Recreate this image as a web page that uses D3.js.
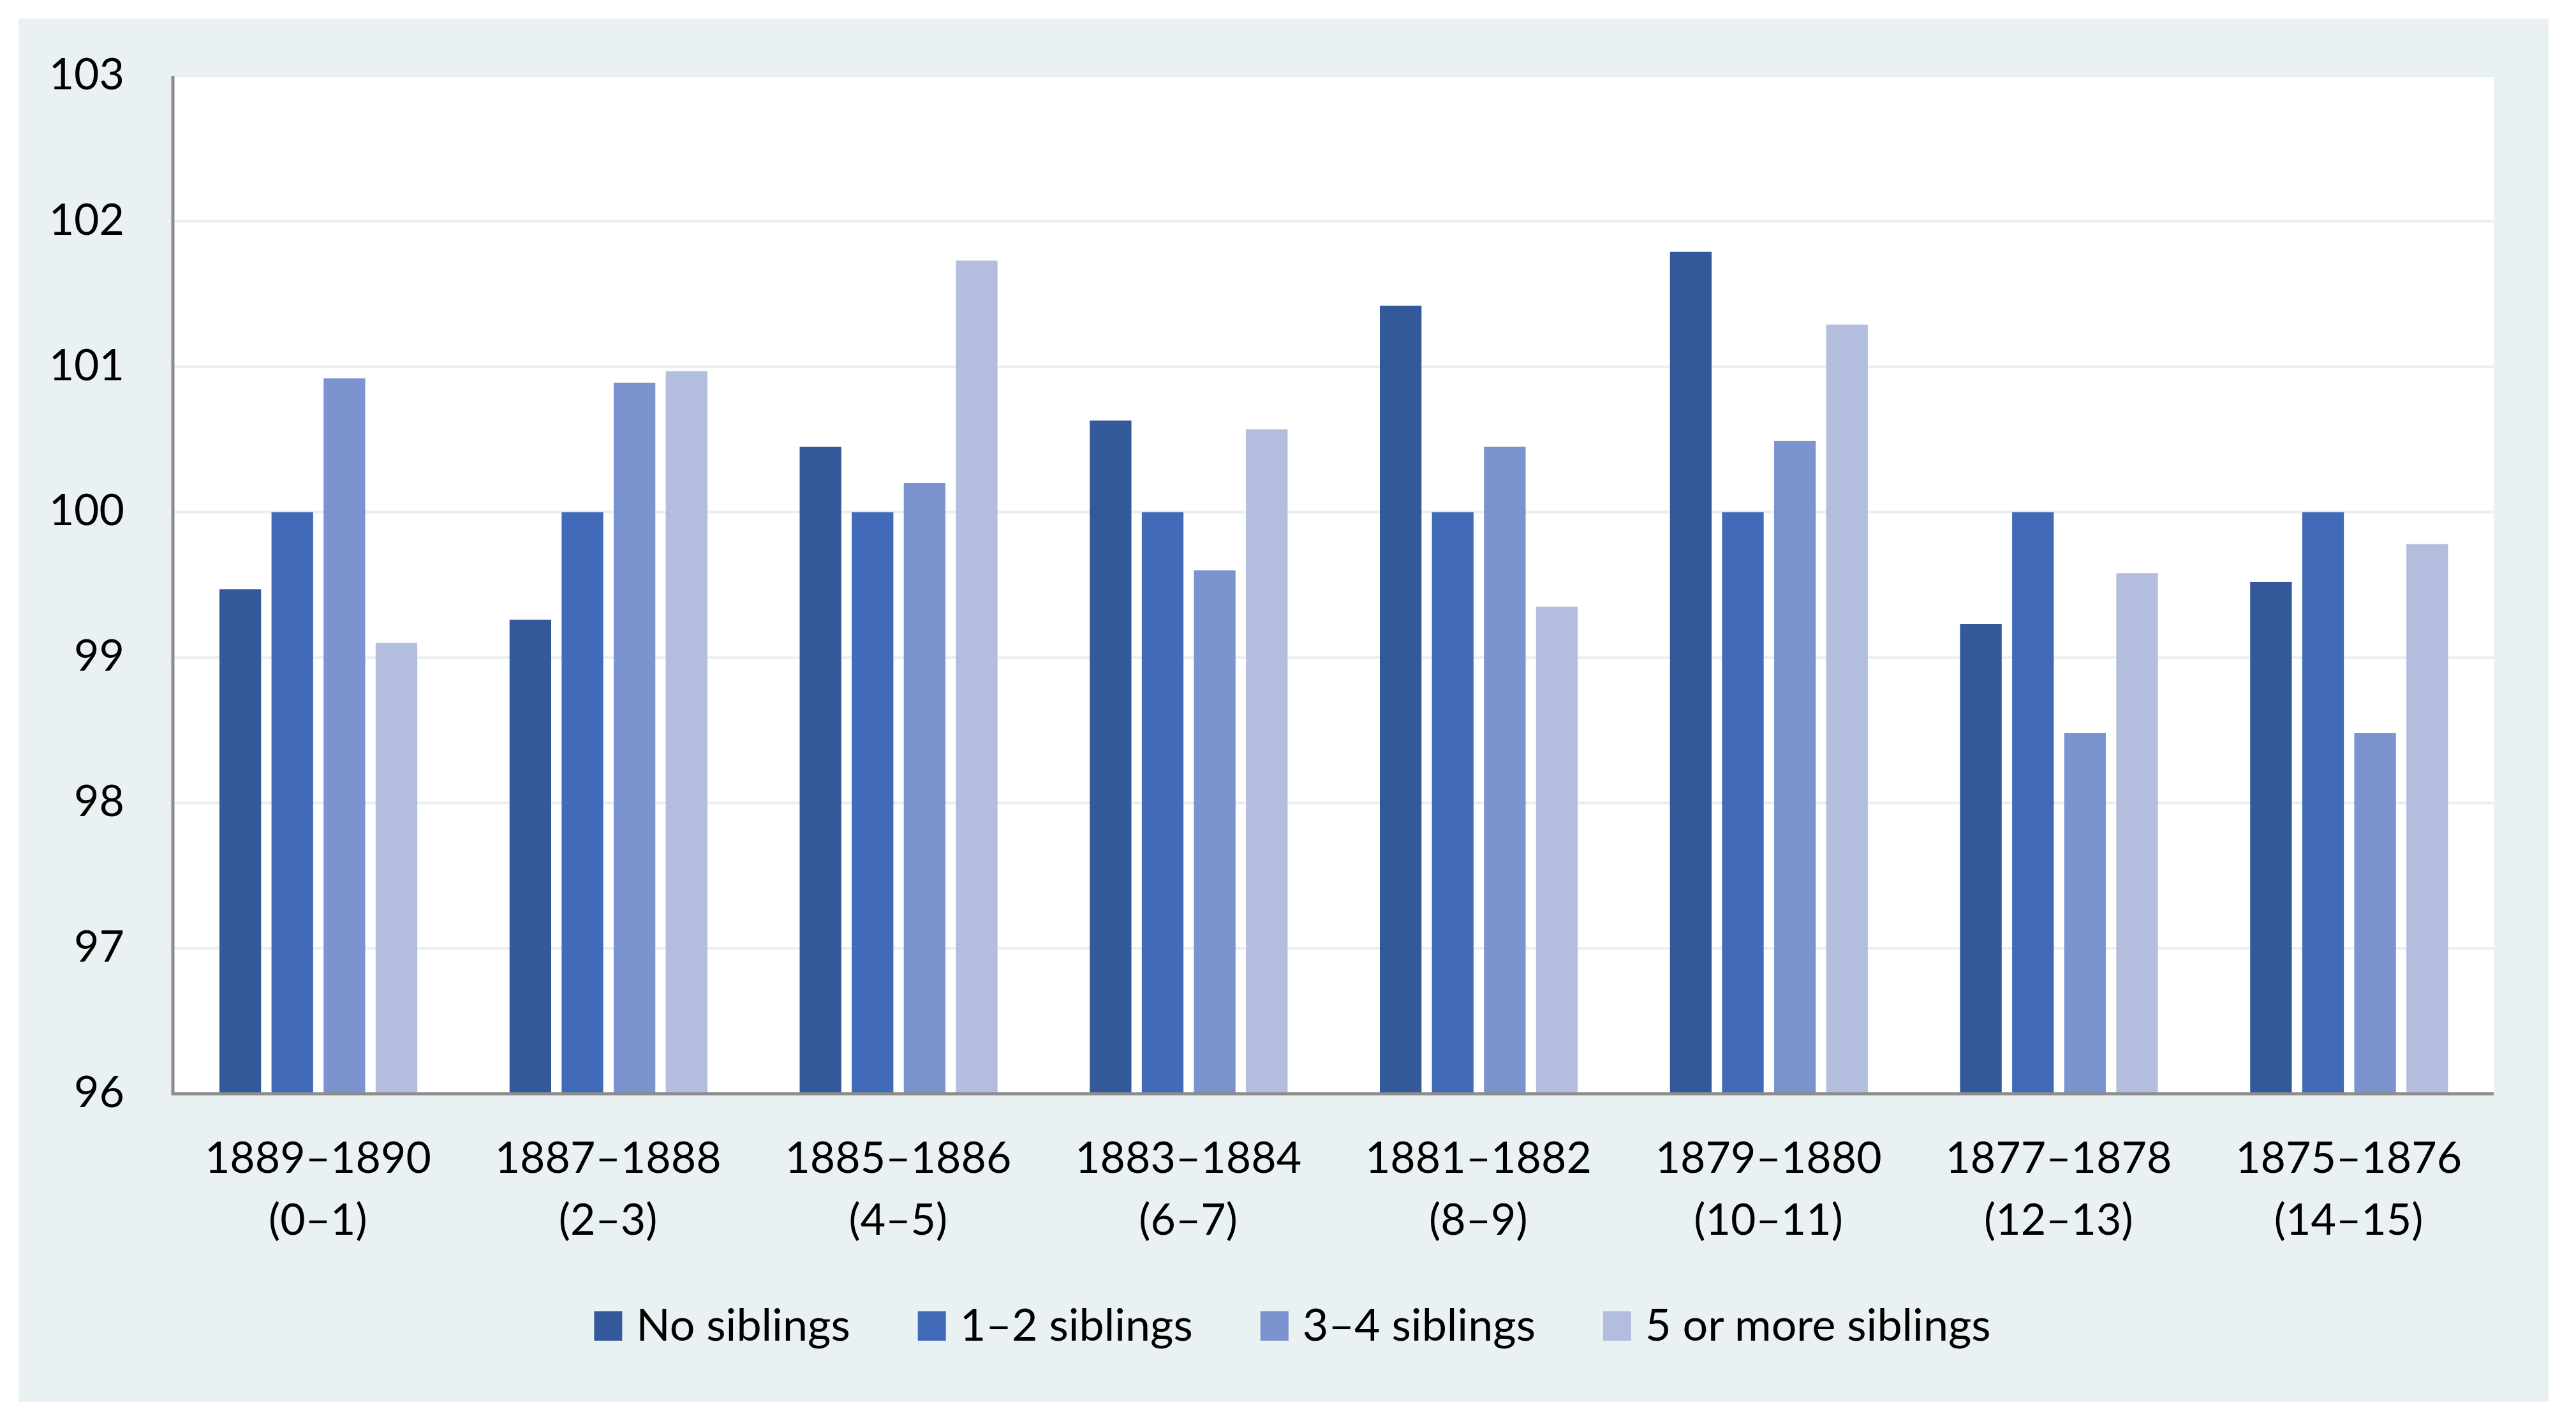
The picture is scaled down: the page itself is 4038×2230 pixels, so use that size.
<!DOCTYPE html>
<html lang="en">
<head>
    <meta charset="UTF-8">
    <title>Siblings by birth cohort</title>
    <style>
        body {
          margin: 0;
          background: #fff;
          font-family: Lato, "Open Sans", sans-serif;
        }
        .grid line {
          stroke: #e8eff1;
          stroke-width: 4px;
        }
        .axis text {
          fill: #000;
          font-family: Lato, "Open Sans", sans-serif;
          font-size: 68px;
        }
        .legend text {
          font-size: 70px;
          fill: #000;
        }
    </style>
</head>
<body>
    <script src="https://d3js.org/d3.v7.min.js"></script>
    <script>
        // cohorts (birth years) and age in years
        var years = ["1889–1890", "1887–1888", "1885–1886", "1883–1884",
                     "1881–1882", "1879–1880", "1877–1878", "1875–1876"];
        var ages = ["(0–1)", "(2–3)", "(4–5)", "(6–7)",
                    "(8–9)", "(10–11)", "(12–13)", "(14–15)"];

        var seriesNames = ["No siblings", "1–2 siblings", "3–4 siblings", "5 or more siblings"];

        var noSiblings = [99.47, 99.26, 100.45, 100.63, 101.42, 101.79, 99.23, 99.52];
        var oneTwo     = [100, 100, 100, 100, 100, 100, 100, 100];
        var threeFour  = [100.92, 100.89, 100.20, 99.60, 100.45, 100.49, 98.48, 98.48];
        var fiveMore   = [99.10, 100.97, 101.73, 100.57, 99.35, 101.29, 99.58, 99.78];

        var yTicks = [96, 97, 98, 99, 100, 101, 102, 103];

        var colors = ["#34599a", "#416bb8", "#7b93ce", "#b3bedf"];

        var width = 4038,
            height = 2230,
            margin = {top: 119, left: 271, right: 4038 - 3909, bottom: 2230 - 1714},
            plotW = width - margin.left - margin.right,
            plotH = height - margin.top - margin.bottom;

        var values = [noSiblings, oneTwo, threeFour, fiveMore];
        var rows = years.map(function(yr, i) {
          return {year: yr, age: ages[i], vals: values.map(function(s, j) { return {k: j, v: s[i]}; })};
        });

        var svg = d3.select("body").append("svg")
            .attr("width", width)
            .attr("height", height);

        // panel background
        svg.append("rect")
            .attr("x", 29).attr("y", 29)
            .attr("width", 3995 - 29).attr("height", 2197 - 29)
            .attr("fill", "#eaf1f3");

        var g = svg.append("g")
            .attr("transform", "translate(" + margin.left + "," + margin.top + ")");

        g.append("rect")
            .attr("width", plotW).attr("height", plotH)
            .attr("fill", "#fff");

        var x0 = d3.scaleBand().domain(years).range([0, plotW]);
        var gw = x0.bandwidth();
        var x1 = d3.scaleBand().domain(d3.range(4))
            .range([gw * 0.1605, gw * 0.8425])
            .paddingInner(0.2);

        var y = d3.scaleLinear().domain([96, 103]).range([plotH, 0]);

        g.append("g")
            .attr("class", "grid")
          .selectAll("line")
          .data(yTicks.slice(1))
          .enter().append("line")
            .attr("x1", 0).attr("x2", plotW)
            .attr("y1", function(d) { return y(d); })
            .attr("y2", function(d) { return y(d); });

        var groups = g.selectAll(".cohort")
            .data(rows)
          .enter().append("g")
            .attr("class", "cohort")
            .attr("transform", function(d) { return "translate(" + x0(d.year) + ",0)"; });

        groups.selectAll("rect")
            .data(function(d) { return d.vals; })
          .enter().append("rect")
            .attr("x", function(d) { return x1(d.k); })
            .attr("width", x1.bandwidth())
            .attr("y", function(d) { return y(d.v); })
            .attr("height", function(d) { return y(96) - y(d.v); })
            .attr("fill", function(d) { return colors[d.k]; });

        // y axis
        var yAxis = g.append("g")
            .attr("class", "axis")
            .call(d3.axisLeft(y).tickValues(yTicks).tickSize(0).tickPadding(76).tickFormat(d3.format("d")));
        yAxis.attr("font-family", null).attr("font-size", null);
        yAxis.select(".domain").remove();
        yAxis.selectAll("text").attr("dy", "0.3em");

        g.append("line")
            .attr("x1", 0).attr("x2", 0)
            .attr("y1", 0).attr("y2", plotH + 2)
            .attr("stroke", "#8c8c8c").attr("stroke-width", 5);

        // x axis, two-line labels
        var xAxis = g.append("g")
            .attr("class", "axis")
            .attr("transform", "translate(0," + plotH + ")");
        xAxis.append("line")
            .attr("x1", -2).attr("x2", plotW)
            .attr("stroke", "#8c8c8c").attr("stroke-width", 5);
        var lbl = xAxis.selectAll(".lbl")
            .data(rows)
          .enter().append("text")
            .attr("class", "lbl")
            .attr("text-anchor", "middle")
            .attr("x", function(d) { return x0(d.year) + gw / 2; });
        lbl.append("tspan")
            .attr("x", function(d) { return x0(d.year) + gw / 2; })
            .attr("y", 124)
            .text(function(d) { return d.year; });
        lbl.append("tspan")
            .attr("x", function(d) { return x0(d.year) + gw / 2; })
            .attr("y", 221)
            .text(function(d) { return d.age; });

        // legend
        var legend = svg.append("g").attr("class", "legend");
        var items = legend.selectAll("g")
            .data(seriesNames)
          .enter().append("g");
        items.append("rect")
            .attr("width", 44).attr("height", 46)
            .attr("y", -46)
            .attr("fill", function(d, i) { return colors[i]; });
        items.append("text")
            .attr("x", 66)
            .text(function(d) { return d; });

        var pos = 0, offsets = [];
        items.each(function() {
          offsets.push(pos);
          pos += 66 + this.querySelector("text").getComputedTextLength() + 106;
        });
        var total = pos - 106, start = 2026 - total / 2;
        items.attr("transform", function(d, i) { return "translate(" + (start + offsets[i]) + ",2101)"; });
    </script>
</body>
</html>
